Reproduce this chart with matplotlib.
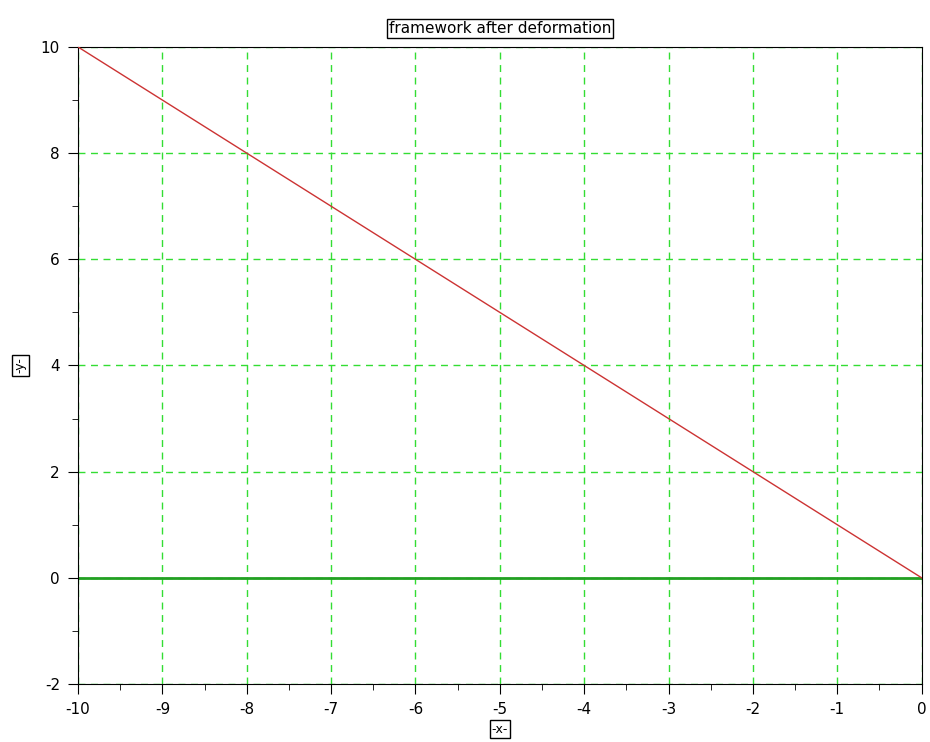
import numpy as np
import matplotlib.pyplot as plt
from matplotlib.ticker import MultipleLocator

plt.rcParams['axes.unicode_minus'] = False

# framework nodes after deformation
deformed_x = [-10, 0]
deformed_y = [10, 0]
# base line
base_x = [-10, 0]
base_y = [0, 0]

fig = plt.figure(figsize=(9.3, 7.42), dpi=100)
ax = fig.add_axes([0.0839, 0.0782, 0.9071, 0.8585])

ax.plot(base_x, base_y, color='#22a022', linewidth=2, zorder=2)
ax.plot(deformed_x, deformed_y, color='#cc3333', linewidth=1, zorder=3)

ax.set_xlim(-10, 0)
ax.set_ylim(-2, 10)
ax.xaxis.set_major_locator(MultipleLocator(1))
ax.xaxis.set_minor_locator(MultipleLocator(0.5))
ax.yaxis.set_major_locator(MultipleLocator(2))
ax.yaxis.set_minor_locator(MultipleLocator(1))
ax.tick_params(which='major', direction='out', length=7, labelsize=11, pad=6)
ax.tick_params(which='minor', direction='out', length=4)

ax.grid(True, which='major', color='#33dd33', linestyle=(0, (5, 4)), linewidth=1)

ax.set_title('framework after deformation', fontsize=11, pad=10,
             bbox=dict(facecolor='white', edgecolor='black', pad=1.5))
ax.set_xlabel('-x-', fontsize=9, labelpad=4,
              bbox=dict(facecolor='white', edgecolor='black', pad=1.5))
ax.set_ylabel('-y-', fontsize=9, labelpad=10,
              bbox=dict(facecolor='white', edgecolor='black', pad=1.5))

fig.savefig('out.png', dpi=100)
